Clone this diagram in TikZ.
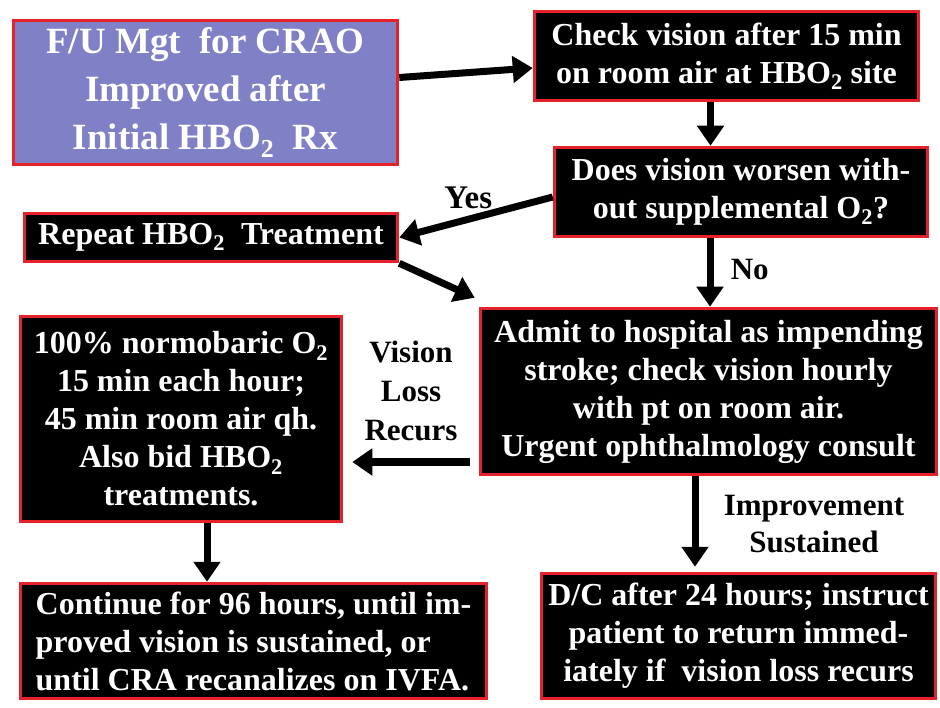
\documentclass[tikz,border=0pt]{standalone}
\usepackage{fontspec}
\setmainfont{Liberation Serif}
\usepackage{tikz}
\usetikzlibrary{arrows.meta, positioning, calc}
\definecolor{mgtfill}{HTML}{8080C6}
\definecolor{mgtline}{HTML}{E3222A}
\tikzset{
  mgtbox/.style   = {font=\bfseries\fontsize{32}{38}\selectfont, text=white, align=center,
                     draw=mgtline, fill=black, line width=3.5pt, inner sep=0pt},
  mgtstart/.style = {mgtbox, fill=mgtfill, font=\bfseries\fontsize{37}{48}\selectfont},
  flow/.style     = {-{Triangle[length=20pt, width=26pt]}, line width=7pt},
  flowlabel/.style = {font=\bfseries\fontsize{31}{39}\selectfont, align=center},
}

\begin{document}
\begin{tikzpicture}[x=1pt, y=-1pt]
  \useasboundingbox (0,0) rectangle (940,708);
  % boxes
  \node[mgtstart, minimum width=384pt, minimum height=144pt] (init) at (205.5,92.5)
      {F/U Mgt\ \ for CRAO\\Improved after\\Initial HBO\textsubscript{2}\ \ Rx};
  \node[mgtbox, minimum width=384pt, minimum height=89pt] (check) at (726.5,56)
      {Check vision after 15 min\\on room air at HBO\textsubscript{2} site};
  \node[mgtbox, minimum width=373pt, minimum height=89pt] (worse) at (741,192)
      {Does vision worsen with-\\out supplemental O\textsubscript{2}?};
  \node[mgtbox, minimum width=373pt, minimum height=48pt] (repeat) at (211,237.5)
      {Repeat HBO\textsubscript{2}\ \ Treatment};
  \node[mgtbox, minimum width=456pt, minimum height=166pt] (admit) at (708.5,391.5)
      {Admit to hospital as impending\\stroke; check vision hourly\\with pt on room air.\\Urgent ophthalmology consult};
  \node[mgtbox, minimum width=321pt, minimum height=205pt] (normo) at (181,419)
      {100\% normobaric O\textsubscript{2}\\15 min each hour;\\45 min room air qh.\\Also bid HBO\textsubscript{2}\\treatments.};
  \node[mgtbox, align=left, minimum width=466pt, minimum height=115pt] (cont) at (253.5,641)
      {Continue for 96 hours, until im-\\proved vision is sustained, or\\until CRA recanalizes\ on IVFA.};
  \node[mgtbox, minimum width=394pt, minimum height=125pt] (dc) at (738.5,636)
      {D/C after 24 hours; instruct\\patient to return immed-\\iately if\ \ vision loss recurs};

  % connectors
  \draw[flow] ([yshift=15pt]init.east) -- ([yshift=-12pt]check.west);
  \draw[flow] ([xshift=-16pt]check.south) -- ([xshift=-16pt]check.south |- worse.north);
  \draw[flow] ([yshift=-5pt]worse.west) -- (repeat.east)
      node[flowlabel, pos=0.55, above=4pt, font=\bfseries\fontsize{33}{39}\selectfont] (yes) {Yes};
  \draw[flow] ([xshift=-31pt]worse.south) -- ([xshift=-31pt]worse.south |- admit.north)
      node[flowlabel, pos=0.45, right=14pt] (no) {No};
  \draw[flow] (repeat.south east) -- ([shift={(-4pt,9pt)}]admit.north west);
  \draw[flow, shorten <=9pt, shorten >=9pt] ([yshift=-70.5pt]admit.west) -- ([yshift=-70.5pt]admit.west -| normo.east)
      node[flowlabel, pos=0.5, above=14pt] (recur) {Vision\\Loss\\Recurs};
  \draw[flow] ([xshift=26pt]normo.south) -- ([xshift=26pt]normo.south |- cont.north);
  \draw[flow, shorten >=5pt] ([xshift=-13.5pt]admit.south) -- ([xshift=-13.5pt]admit.south |- dc.north)
      node[flowlabel, pos=0.5, right=22pt, font=\bfseries\fontsize{31}{37}\selectfont] (sust) {Improvement\\Sustained};
\end{tikzpicture}
\end{document}
